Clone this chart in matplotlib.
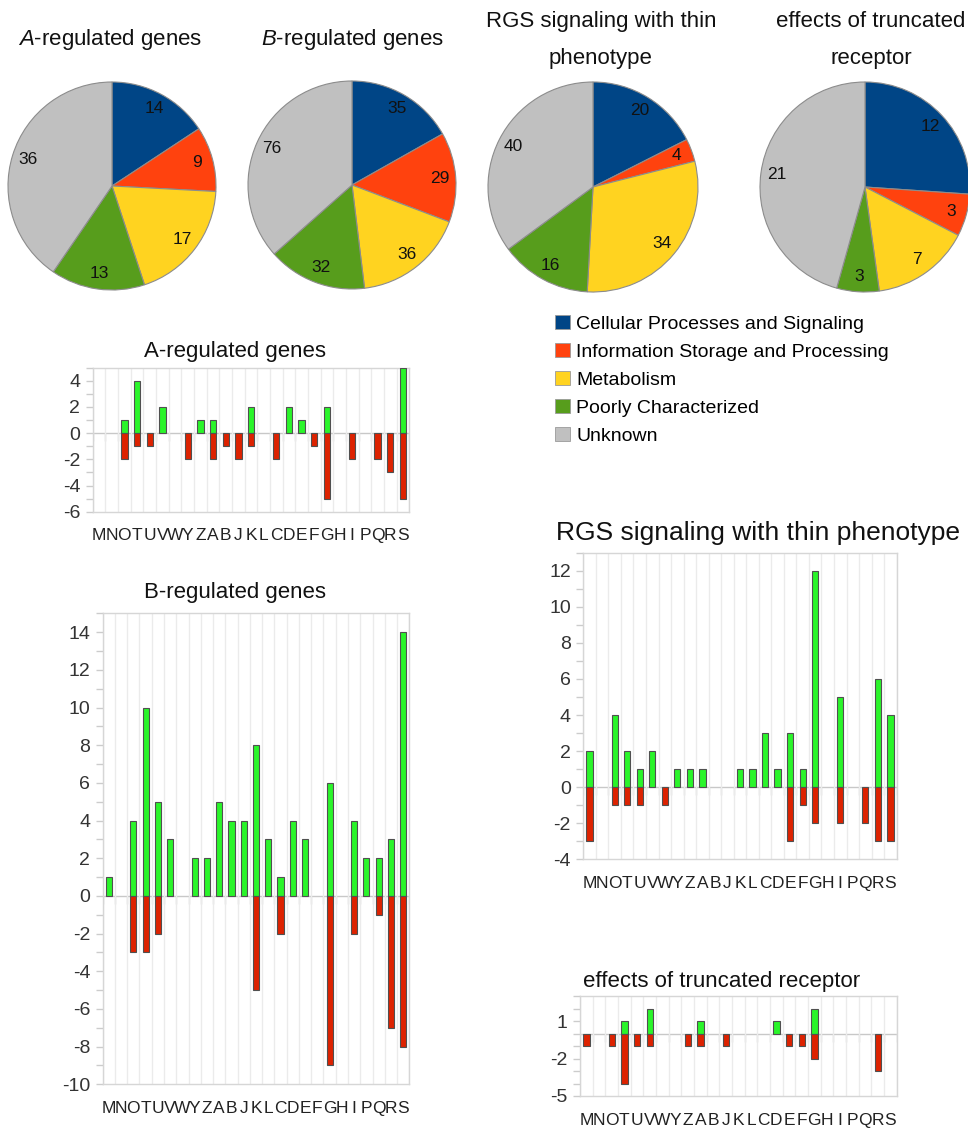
import numpy as np
import matplotlib
matplotlib.use("Agg")
import matplotlib.pyplot as plt
from matplotlib.patches import Patch
from matplotlib.ticker import MultipleLocator, FixedLocator

plt.rcParams["font.family"] = ["Liberation Sans", "DejaVu Sans"]
plt.rcParams["mathtext.fontset"] = "custom"
plt.rcParams["mathtext.it"] = "Liberation Sans:italic"
plt.rcParams["mathtext.rm"] = "Liberation Sans"
plt.rcParams["axes.unicode_minus"] = False

# ---- data -------------------------------------------------------------
cog_classes = ["Cellular Processes and Signaling",
               "Information Storage and Processing",
               "Metabolism",
               "Poorly Characterized",
               "Unknown"]
class_colors = ["#004586", "#ff420e", "#ffd320", "#579d1c", "#c0c0c0"]

pie_a_regulated = [14, 9, 17, 13, 36]
pie_b_regulated = [35, 29, 36, 32, 76]
pie_rgs_thin = [20, 4, 34, 16, 40]
pie_truncated = [12, 3, 7, 3, 21]

categories = list("MNOTUVWYZABJKLCDEFGHIPQRS")

a_up = [0, 0, 1, 4, 0, 2, 0, 0, 1, 1, 0, 0, 2, 0, 0, 2, 1, 0, 2, 0, 0, 0, 0, 0, 5]
a_down = [0, 0, -2, -1, -1, 0, 0, -2, 0, -2, -1, -2, -1, 0, -2, 0, 0, -1, -5, 0, -2, 0, -2, -3, -5]

b_up = [1, 0, 4, 10, 5, 3, 0, 2, 2, 5, 4, 4, 8, 3, 1, 4, 3, 0, 6, 0, 4, 2, 2, 3, 14]
b_down = [0, 0, -3, -3, -2, 0, 0, 0, 0, 0, 0, 0, -5, 0, -2, 0, 0, 0, -9, 0, -2, 0, -1, -7, -8]

rgs_up = [2, 0, 4, 2, 1, 2, 0, 1, 1, 1, 0, 0, 1, 1, 3, 1, 3, 1, 12, 0, 5, 0, 0, 6, 4]
rgs_down = [-3, 0, -1, -1, -1, 0, -1, 0, 0, 0, 0, 0, 0, 0, 0, 0, -3, -1, -2, 0, -2, 0, -2, -3, -3]

trunc_up = [0, 0, 0, 1, 0, 2, 0, 0, 0, 1, 0, 0, 0, 0, 0, 1, 0, 0, 2, 0, 0, 0, 0, 0, 0]
trunc_down = [-1, 0, -1, -4, -1, -1, 0, 0, -1, -1, 0, -1, 0, 0, 0, 0, -1, -1, -2, 0, 0, 0, 0, -3, 0]

UP_COLOR = "#2af52a"
DOWN_COLOR = "#dd2200"

# ---- figure -----------------------------------------------------------
W, H = 968, 1132
fig = plt.figure(figsize=(W / 100, H / 100), dpi=100)
fig.patch.set_facecolor("white")


def px_axes(left, top, right, bottom):
    return fig.add_axes([left / W, 1 - bottom / H, (right - left) / W, (bottom - top) / H])


def fig_text(x, y, s, **kw):
    return fig.text(x / W, 1 - y / H, s, **kw)


def draw_pie(cx, cy, r, counts):
    pad = 1.04
    ax = px_axes(cx - r * pad, cy - r * pad, cx + r * pad, cy + r * pad)
    total = sum(counts)
    ax.pie(counts, colors=class_colors, startangle=90, counterclock=False,
           autopct=lambda p: f"{p * total / 100:.0f}", pctdistance=0.85,
           wedgeprops=dict(edgecolor="#8c8c8c", linewidth=0.8),
           textprops=dict(fontsize=12.5, color="#111111"))
    ax.set_xlim(-pad, pad)
    ax.set_ylim(-pad, pad)
    ax.set_aspect("equal")
    return ax


def draw_bars(box, up, down, ylim, major_ticks):
    ax = px_axes(*box)
    up = np.asarray(up)
    down = np.asarray(down)
    x = np.arange(len(categories))
    m_up = up != 0
    m_dn = down != 0
    ax.bar(x[m_up], up[m_up], width=0.5, color=UP_COLOR, edgecolor="#505050",
           linewidth=0.8, zorder=3)
    ax.bar(x[m_dn], down[m_dn], width=0.5, color=DOWN_COLOR, edgecolor="#505050",
           linewidth=0.8, zorder=3)
    ax.set_xlim(-0.5, len(categories) - 0.5)
    ax.set_ylim(*ylim)
    ax.set_xticks(x)
    ax.set_xticklabels(categories)
    ax.set_xticks(np.arange(-0.5, len(categories), 1), minor=True)
    ax.yaxis.set_major_locator(FixedLocator(major_ticks))
    ax.yaxis.set_minor_locator(MultipleLocator(1))
    ax.grid(which="minor", axis="x", color="#ebebeb", linewidth=1, zorder=0)
    ax.axhline(0, color="#c8c8c8", linewidth=1, zorder=1)
    bounds = np.arange(-0.5, len(categories), 1)
    ax.plot(bounds, np.zeros_like(bounds), ls="none", marker=3, ms=6,
            mec="#d4d4d4", mew=1, zorder=1)
    for s in ax.spines.values():
        s.set_color("#d6d6d6")
        s.set_linewidth(1)
    ax.tick_params(axis="x", which="both", length=0, pad=12, labelsize=12.5,
                   labelcolor="#222222")
    ax.tick_params(axis="y", which="both", direction="out", length=5,
                   color="#cccccc", width=1, pad=4, labelsize=14,
                   labelcolor="#333333")
    return ax


# pies
draw_pie(112, 186, 104, pie_a_regulated)
draw_pie(352, 185, 104, pie_b_regulated)
draw_pie(593, 187, 105, pie_rgs_thin)
draw_pie(865, 187, 105, pie_truncated)

title_kw = dict(fontsize=16, ha="center", va="center", color="#111111")
fig_text(110, 39, r"$\mathit{A}$-regulated genes", **title_kw)
fig_text(353, 39, r"$\mathit{B}$-regulated genes", **title_kw)
fig_text(601, 40, "RGS signaling with thin\nphenotype", linespacing=2.0, **title_kw)
fig_text(871, 40, "effects of truncated\nreceptor", linespacing=2.0, **title_kw)

# legend
handles = [Patch(facecolor=c, edgecolor="#9a9a9a", linewidth=0.6) for c in class_colors]
fig.legend(handles, cog_classes, loc="upper left",
           bbox_to_anchor=(555 / W, 1 - 315 / H), frameon=False, fontsize=14,
           handlelength=0.75, handleheight=0.75, handletextpad=0.35,
           labelspacing=0.52, borderpad=0, borderaxespad=0)

# bar charts
draw_bars((92.7, 367.7, 409.3, 511.7), a_up, a_down, (-6, 5), range(-6, 5, 2))
fig_text(235, 352, "A-regulated genes", **title_kw)

draw_bars((102.7, 613.3, 409.3, 1084.3), b_up, b_down, (-10, 15), range(-10, 15, 2))
fig_text(235, 592, "B-regulated genes", **title_kw)

draw_bars((583.3, 552.7, 896.7, 859.3), rgs_up, rgs_down, (-4, 13), range(-4, 13, 2))
fig_text(758, 533, "RGS signaling with thin phenotype", fontsize=19,
         ha="center", va="center", color="#111111")

draw_bars((580, 996, 896.7, 1096), trunc_up, trunc_down, (-5, 3), [-5, -2, 1])
fig_text(722, 981, "effects of truncated receptor", **title_kw)

fig.savefig("out.png", dpi=100, facecolor="white")
